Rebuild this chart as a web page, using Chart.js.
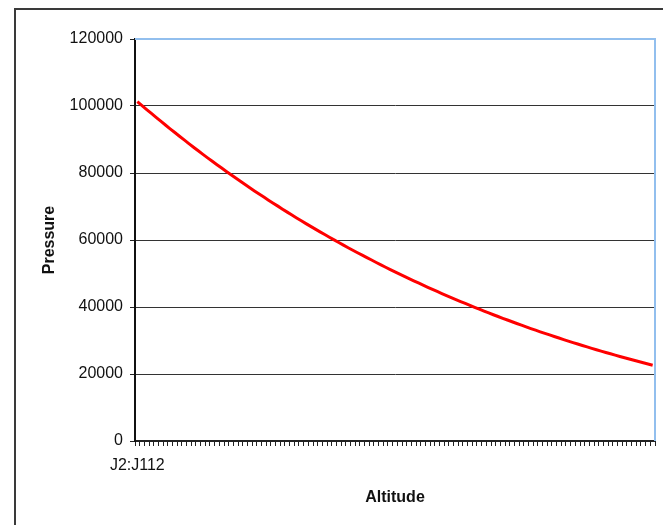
<!DOCTYPE html>
<html>
<head>
<meta charset="utf-8">
<script src="https://cdn.jsdelivr.net/npm/chart.js@4/dist/chart.umd.min.js"></script>
<style>
  html, body { margin: 0; padding: 0; background: #ffffff; overflow: hidden; }
  #wrap { position: absolute; left: 0; top: 0; width: 663px; height: 525px; }
</style>
</head>
<body>
<div id="wrap"><canvas id="chart" width="663" height="525"></canvas></div>
<script>
// Standard atmosphere pressure (Pa), one reading per 100 m from 0 to 11000 m
const pressure = [
  101325, 100129, 98945, 97773, 96611, 95461, 94322, 93194, 92076, 90970,
  89875, 88779, 87696, 86626, 85569, 84525, 83494, 82475, 81469, 80475,
  79495, 78502, 77522, 76554, 75598, 74654, 73722, 72801, 71892, 70994,
  70108, 69211, 68326, 67452, 66589, 65737, 64896, 64066, 63247, 62438,
  61640, 60832, 60035, 59248, 58471, 57704, 56948, 56201, 55464, 54737,
  54020, 53294, 52577, 51870, 51173, 50485, 49806, 49136, 48475, 47823,
  47181, 46530, 45888, 45255, 44631, 44015, 43408, 42809, 42218, 41636,
  41061, 40479, 39905, 39340, 38783, 38233, 37691, 37157, 36630, 36111,
  35600, 35081, 34570, 34066, 33570, 33081, 32599, 32124, 31656, 31195,
  30742, 30282, 29828, 29381, 28941, 28508, 28081, 27660, 27246, 26838,
  26436, 26028, 25627, 25232, 24843, 24460, 24083, 23712, 23346, 22986,
  22632
];

// The category axis carries one label: the worksheet range of the series
const rangeLabel = 'J2:J112';
const categories = pressure.map((_, i) => (i === 0 ? rangeLabel : ''));

const yTicks = { min: 0, max: 120000, step: 20000 };
const axisTitles = { x: 'Altitude', y: 'Pressure' };

const FONT = '"Liberation Sans", Arial, sans-serif';

// White page, dark outer frame and light-blue plot border
const framePlugin = {
  id: 'frame',
  beforeDraw(chart) {
    const ctx = chart.ctx;
    ctx.save();
    ctx.fillStyle = '#ffffff';
    ctx.fillRect(0, 0, chart.width, chart.height);
    ctx.strokeStyle = '#3a3a3a';
    ctx.lineWidth = 2;
    ctx.strokeRect(15, 9, chart.width + 40, chart.height + 40);
    ctx.restore();
  },
  afterDatasetsDraw(chart) {
    const { left, right, top, bottom } = chart.chartArea;
    const ctx = chart.ctx;
    ctx.save();
    ctx.strokeStyle = '#92bfee';
    ctx.lineWidth = 2;
    ctx.beginPath();
    ctx.moveTo(left, top);
    ctx.lineTo(right, top);
    ctx.lineTo(right, bottom);
    ctx.stroke();
    ctx.restore();
  }
};

new Chart(document.getElementById('chart'), {
  type: 'line',
  data: {
    labels: categories,
    datasets: [{
      data: pressure,
      borderColor: '#ff0000',
      borderWidth: 3,
      pointRadius: 0,
      tension: 0,
      fill: false
    }]
  },
  options: {
    responsive: false,
    animation: false,
    devicePixelRatio: 1,
    layout: { padding: { left: 0, top: 39, right: 8, bottom: 0 } },
    plugins: { legend: { display: false }, tooltip: { enabled: false } },
    scales: {
      x: {
        type: 'category',
        offset: true,
        grid: {
          offset: true,
          drawOnChartArea: false,
          drawTicks: true,
          tickLength: 5,
          tickColor: '#222222',
          tickWidth: 1
        },
        border: { color: '#222222', width: 2 },
        ticks: {
          autoSkip: false,
          maxRotation: 0,
          minRotation: 0,
          padding: 10,
          color: '#111111',
          font: { family: FONT, size: 16 }
        },
        title: {
          display: true,
          text: axisTitles.x,
          color: '#111111',
          font: { family: FONT, size: 16, weight: 'bold' },
          padding: { top: 0, bottom: 18 }
        },
        afterFit(scale) { scale.height = 84; }
      },
      y: {
        min: yTicks.min,
        max: yTicks.max,
        grid: {
          color: (c) => (c.tick && c.tick.value === yTicks.max ? 'rgba(0,0,0,0)' : '#333333'),
          lineWidth: 1,
          drawTicks: true,
          tickLength: 5,
          tickColor: '#222222'
        },
        border: { color: '#111111', width: 2 },
        ticks: {
          stepSize: yTicks.step,
          padding: 7,
          color: '#111111',
          font: { family: FONT, size: 16 },
          callback: (value) => String(value)
        },
        title: {
          display: true,
          text: axisTitles.y,
          color: '#111111',
          font: { family: FONT, size: 16, weight: 'bold' },
          padding: { top: 40, bottom: 0 }
        },
        afterFit(scale) { scale.width = 135; }
      }
    }
  },
  plugins: [framePlugin]
});
</script>
</body>
</html>
